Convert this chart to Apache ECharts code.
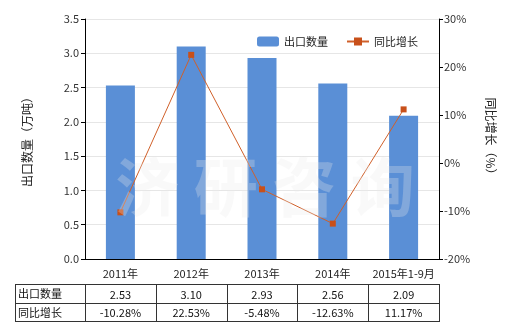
<!DOCTYPE html>
<html><head><meta charset="utf-8">
<script src="https://cdn.jsdelivr.net/npm/echarts@6/dist/echarts.min.js"></script>
<style>html,body{margin:0;padding:0;background:#fff}#c{width:520px;height:330px}</style>
</head><body><div id="c"></div>
<script>
const categories = ['2011年','2012年','2013年','2014年','2015年1-9月'];
const exportQty = [2.53, 3.10, 2.93, 2.56, 2.09];
const yoyGrowth = [-10.28, 22.53, -5.48, -12.63, 11.17];
const seriesNames = ['出口数量','同比增长'];
const qtyLabels = ['2.53','3.10','2.93','2.56','2.09'];
const yoyLabels = ['-10.28%','22.53%','-5.48%','-12.63%','11.17%'];

const FONT = '"Noto Sans CJK SC", "DejaVu Sans", sans-serif';
const chart = echarts.init(document.getElementById('c'), null, {renderer:'canvas'});
const gridL = 85, gridR = 439, gridT = 19, gridB = 259;
chart.setOption({
  animation:false,
  textStyle:{fontFamily:FONT},
  grid:{left:gridL, right:520-gridR, top:gridT, bottom:330-gridB},
  legend:{left:252, top:31, itemWidth:22, itemHeight:10, itemGap:18,
    textStyle:{fontSize:11, color:'#222', fontFamily:FONT},
    data:[{name:seriesNames[0]},{name:seriesNames[1]}]},
  xAxis:{type:'category', data:categories,
    axisLine:{lineStyle:{color:'#000'}},
    axisTick:{alignWithLabel:true, length:4, lineStyle:{color:'#000'}},
    axisLabel:{color:'#222', fontSize:11, margin:9, interval:0, fontFamily:FONT}},
  yAxis:[
    {type:'value', min:0, max:3.5, interval:0.5, name:'出口数量（万吨）', nameLocation:'middle', nameGap:52, nameRotate:90,
     nameTextStyle:{fontSize:12, color:'#222', fontFamily:FONT},
     axisLine:{show:true, lineStyle:{color:'#000'}},
     axisTick:{show:true, length:4, lineStyle:{color:'#000'}},
     axisLabel:{color:'#333', fontSize:11, formatter:v=>v.toFixed(1), margin:6},
     splitLine:{lineStyle:{color:'#e6e6e6'}}},
    {type:'value', min:-20, max:30, interval:10, name:'同比增长（%）', nameLocation:'middle', nameGap:46, nameRotate:-90,
     nameTextStyle:{fontSize:12, color:'#222', fontFamily:FONT},
     axisLine:{show:true, lineStyle:{color:'#000'}},
     axisTick:{show:true, length:4, lineStyle:{color:'#000'}},
     axisLabel:{color:'#333', fontSize:11, formatter:'{value}%', margin:5},
     splitLine:{show:false}}
  ],
  series:[
    {name:seriesNames[0], type:'bar', data:exportQty, barWidth:29, itemStyle:{color:'#5a8fd6'}, z:2},
    {name:seriesNames[1], type:'line', yAxisIndex:1, data:yoyGrowth, symbol:'rect', symbolSize:6,
     itemStyle:{color:'#c8501a'}, lineStyle:{color:'#d0602a', width:1}, z:3}
  ]
});

function buildGraphics(){
  const els = [];
  const centers = categories.map(c => chart.convertToPixel({xAxisIndex:0}, c));
  const step = centers.length>1 ? centers[1]-centers[0] : 70;
  const tableL = 15, colEdges = [tableL, gridL];
  centers.forEach(cx => colEdges.push(cx + step/2));
  const rowTop = 284, rowMid = 303, rowBot = 321;
  const line = (x1,y1,x2,y2)=>({type:'line', shape:{x1,y1,x2,y2}, style:{stroke:'#333', lineWidth:1}, silent:true});
  const right = colEdges[colEdges.length-1];
  [rowTop,rowMid,rowBot].forEach(y=>els.push(line(tableL,y+0.5,right,y+0.5)));
  colEdges.forEach(x=>els.push(line(Math.round(x)+0.5,rowTop,Math.round(x)+0.5,rowBot+1)));
  const txt = (x,y,t,align)=>({type:'text', x, y, style:{text:t, fill:'#111', font:'11px '+FONT, textAlign:align, textVerticalAlign:'middle'}, silent:true});
  els.push(txt(tableL+3,(rowTop+rowMid)/2+0.5,seriesNames[0],'left'));
  els.push(txt(tableL+3,(rowMid+rowBot)/2+0.5,seriesNames[1],'left'));
  centers.forEach((cx,i)=>{
    els.push(txt(cx,(rowTop+rowMid)/2+1,qtyLabels[i],'center'));
    els.push(txt(cx,(rowMid+rowBot)/2+1,yoyLabels[i],'center'));
  });
  // watermark
  els.push({type:'text', x:265, y:187, z:10, style:{text:'济 研 咨 询', fill:'rgba(235,235,235,0.28)', font:'bold 64px "Noto Sans CJK SC"', textAlign:'center', textVerticalAlign:'middle'}, silent:true});
  chart.setOption({graphic:els});
}
buildGraphics();
</script></body></html>
